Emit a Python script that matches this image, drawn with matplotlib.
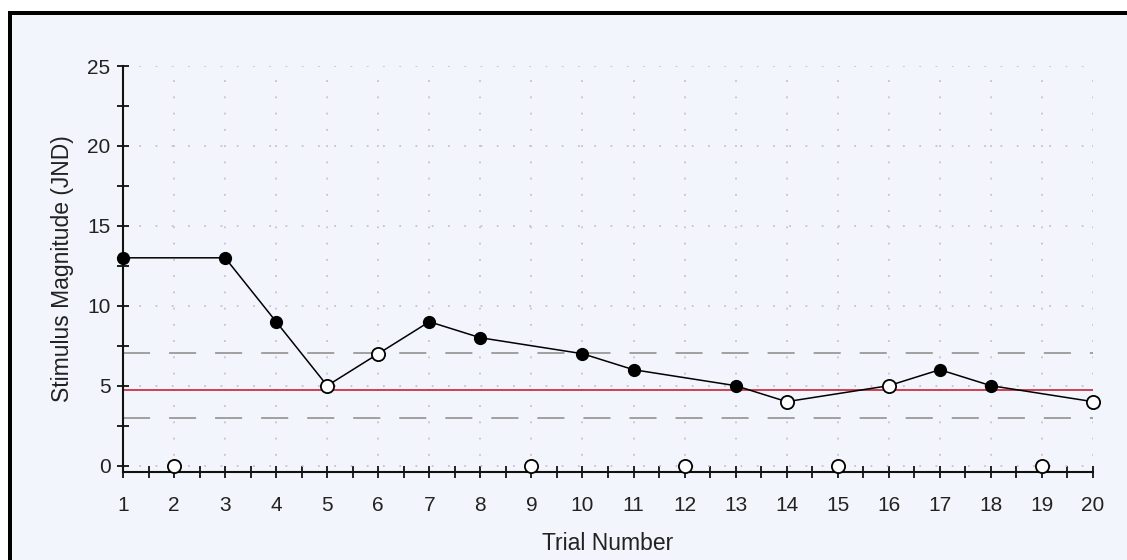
import matplotlib
matplotlib.use("Agg")
import matplotlib.pyplot as plt
from matplotlib.patches import Rectangle
from matplotlib.ticker import MultipleLocator

# ---- data ----
trials = [1, 3, 4, 5, 6, 7, 8, 10, 11, 13, 14, 16, 17, 18, 20]
magnitudes = [13, 13, 9, 5, 7, 9, 8, 7, 6, 5, 4, 5, 6, 5, 4]
open_flags = [False, False, False, True, True, False, False, False, False, False, True, True, False, False, True]
zero_trials = [2, 9, 12, 15, 19]
zero_values = [0, 0, 0, 0, 0]
threshold = 4.75
upper_bound = 7.05
lower_bound = 3.0
x_ticks = list(range(1, 21))
y_ticks = [0, 5, 10, 15, 20, 25]

W, H = 1127, 560
plt.rcParams['font.family'] = ['Liberation Sans', 'DejaVu Sans']
fig = plt.figure(figsize=(W / 100, H / 100), dpi=100)
fig.patch.set_facecolor('white')
bg = '#f2f5fb'

# page background and frame
fig.add_artist(Rectangle((12 / W, 0), 1, (H - 15) / H, transform=fig.transFigure,
                         facecolor=bg, edgecolor='none', zorder=-10))
fig.add_artist(Rectangle((8 / W, 0), 4 / W, (H - 11) / H, transform=fig.transFigure,
                         facecolor='black', edgecolor='none', zorder=5))
fig.add_artist(Rectangle((8 / W, (H - 15) / H), 1, 4 / H, transform=fig.transFigure,
                         facecolor='black', edgecolor='none', zorder=5))

ax = fig.add_axes([123 / W, (H - 472) / H, (1093 - 123) / W, (472 - 66) / H])
ax.set_facecolor(bg)
ax.set_xlim(1, 20)
ax.set_ylim(-0.4, 25)

# grid
ax.set_xticks(x_ticks)
ax.set_yticks(y_ticks)
ax.xaxis.set_minor_locator(MultipleLocator(0.5))
ax.yaxis.set_minor_locator(MultipleLocator(2.5))
ax.grid(True, which='major', color='#d3bccd', linestyle=(0, (1, 8)), linewidth=1.3, zorder=0)
ax.set_axisbelow(True)

# reference lines
ax.axhline(upper_bound, color='#9a9a9a', linewidth=1.3, dashes=(15, 10.5), zorder=1)
ax.axhline(lower_bound, color='#9a9a9a', linewidth=1.3, dashes=(15, 10.5), zorder=1)
ax.axhline(threshold, color='#cc3344', linewidth=1.3, zorder=2)

# main series
ax.plot(trials, magnitudes, color='black', linewidth=1.1, zorder=3)
for t, m, o in zip(trials, magnitudes, open_flags):
    if o:
        ax.plot(t, m, marker='o', markersize=9.5, markerfacecolor='white',
                markeredgecolor='black', markeredgewidth=1.3, zorder=4, clip_on=False)
    else:
        ax.plot(t, m, marker='o', markersize=8.5, markerfacecolor='black',
                markeredgecolor='black', zorder=4, clip_on=False)
ax.plot(zero_trials, zero_values, linestyle='none', marker='o', markersize=9.5,
        markerfacecolor='white', markeredgecolor='black', markeredgewidth=1.3,
        zorder=4, clip_on=False)

# spines and ticks
for s in ['top', 'right']:
    ax.spines[s].set_visible(False)
for s in ['left', 'bottom']:
    ax.spines[s].set_color('#111111')
    ax.spines[s].set_linewidth(1.5)
ax.tick_params(axis='both', which='both', direction='inout', length=8, width=1.3,
               color='#111111', labelsize=15, labelcolor='#222222')
ax.tick_params(axis='x', which='major', pad=13)
ax.tick_params(axis='y', which='major', pad=5)

ax.set_xlabel('Trial Number', fontsize=16.5, color='#222222', va='center')
ax.xaxis.set_label_coords(0.5, -0.175)
ax.set_ylabel('Stimulus Magnitude (JND)', fontsize=16.5, color='#222222', va='center')
ax.yaxis.set_label_coords(-0.062, 0.5)

fig.savefig('out.png', dpi=100, facecolor=fig.get_facecolor())
